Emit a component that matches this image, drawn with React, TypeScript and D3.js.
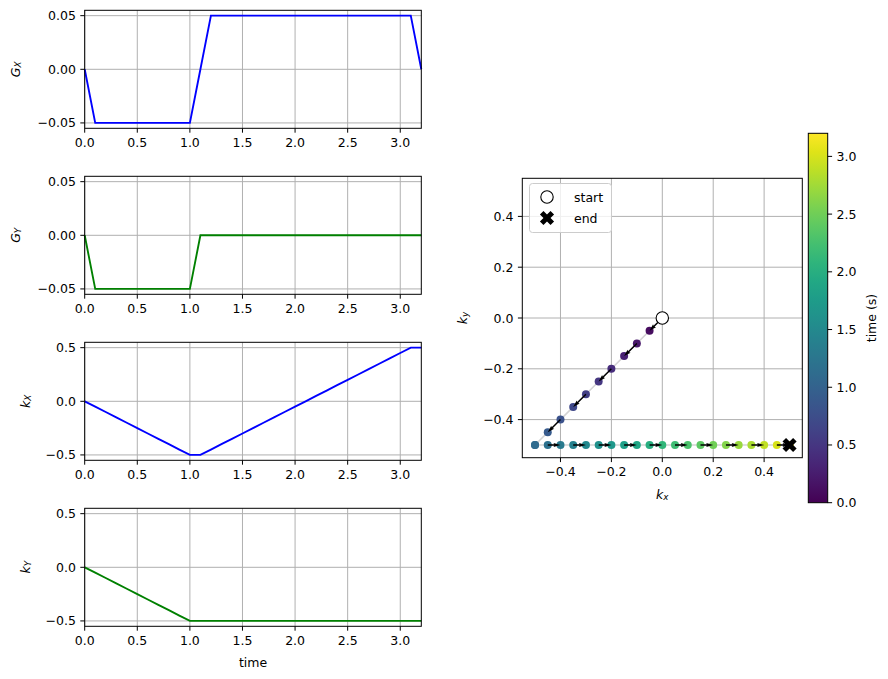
import React from 'react';
import * as d3 from 'd3';

const time = [0, 0.1, 0.2, 0.3, 0.4, 0.5, 0.6, 0.7, 0.8, 0.9, 1.0, 1.1, 1.2, 1.3, 1.4, 1.5, 1.6, 1.7, 1.8, 1.9, 2.0, 2.1, 2.2, 2.3, 2.4, 2.5, 2.6, 2.7, 2.8, 2.9, 3.0, 3.1, 3.2];
const gx = [0, -0.05, -0.05, -0.05, -0.05, -0.05, -0.05, -0.05, -0.05, -0.05, -0.05, 0, 0.05, 0.05, 0.05, 0.05, 0.05, 0.05, 0.05, 0.05, 0.05, 0.05, 0.05, 0.05, 0.05, 0.05, 0.05, 0.05, 0.05, 0.05, 0.05, 0.05, 0];
const gy = [0, -0.05, -0.05, -0.05, -0.05, -0.05, -0.05, -0.05, -0.05, -0.05, -0.05, 0, 0, 0, 0, 0, 0, 0, 0, 0, 0, 0, 0, 0, 0, 0, 0, 0, 0, 0, 0, 0, 0];
const kx = [0, -0.05, -0.1, -0.15, -0.2, -0.25, -0.3, -0.35, -0.4, -0.45, -0.5, -0.5, -0.45, -0.4, -0.35, -0.3, -0.25, -0.2, -0.15, -0.1, -0.05, 0, 0.05, 0.1, 0.15, 0.2, 0.25, 0.3, 0.35, 0.4, 0.45, 0.5, 0.5];
const ky = [0, -0.05, -0.1, -0.15, -0.2, -0.25, -0.3, -0.35, -0.4, -0.45, -0.5, -0.5, -0.5, -0.5, -0.5, -0.5, -0.5, -0.5, -0.5, -0.5, -0.5, -0.5, -0.5, -0.5, -0.5, -0.5, -0.5, -0.5, -0.5, -0.5, -0.5, -0.5, -0.5];

const timeTicks = [0, 0.5, 1.0, 1.5, 2.0, 2.5, 3.0];
const gTicks = [-0.05, 0, 0.05];
const kTicks = [-0.5, 0, 0.5];
const kspaceTicks = [-0.4, -0.2, 0, 0.2, 0.4];
const cbarTicks = [0, 0.5, 1.0, 1.5, 2.0, 2.5, 3.0];

const FONT = 'DejaVu Sans, sans-serif';
const FS = 12.5;
const TICK = 4.4;
const PAD = 4.4;
const GRID = '#b0b0b0';

const LX0 = 84.7, LX1 = 421.3;
const TOPS = [10.3, 176.3, 342.3, 508.3];
const PH = 118;

const RX0 = 522.3, RX1 = 802.3, RY0 = 178.3, RY1 = 457.7;
const CB = { x0: 808.3, x1: 827.7, y0: 133.3, y1: 502.7 };

function MathLabel({ x, y, main, sub, rotate }: { x: number; y: number; main: string; sub: string; rotate?: boolean }) {
  return (
    <text
      x={x}
      y={y}
      transform={rotate ? `rotate(-90 ${x} ${y})` : undefined}
      textAnchor="middle"
      dominantBaseline="central"
      fontFamily={FONT}
      fontSize={FS}
    >
      <tspan fontStyle="italic">{main}</tspan>
      <tspan fontStyle="italic" fontSize={FS * 0.7} dy={3}>{sub}</tspan>
    </text>
  );
}

function LeftPanel({ top, values, color, domain, ticks, fmt, labelMain, labelSub, labelX, showTime }: any) {
  const x = d3.scaleLinear().domain([0, 3.2]).range([LX0, LX1]);
  const y = d3.scaleLinear().domain(domain).range([top + PH, top]);
  const line = d3.line<number>().x((_, i) => x(time[i])).y((d) => y(d));
  const f = d3.format(fmt);
  return (
    <g>
      {timeTicks.map((t) => (
        <line key={'gx' + t} x1={x(t)} x2={x(t)} y1={top} y2={top + PH} stroke={GRID} strokeWidth={1} />
      ))}
      {ticks.map((t: number) => (
        <line key={'gy' + t} x1={LX0} x2={LX1} y1={y(t)} y2={y(t)} stroke={GRID} strokeWidth={1} />
      ))}
      <path d={line(values) || ''} fill="none" stroke={color} strokeWidth={1.875} />
      <rect x={LX0} y={top} width={LX1 - LX0} height={PH} fill="none" stroke="#000" strokeWidth={1} />
      {timeTicks.map((t) => (
        <g key={'tx' + t}>
          <line x1={x(t)} x2={x(t)} y1={top + PH} y2={top + PH + TICK} stroke="#000" strokeWidth={1} />
          <text x={x(t)} y={top + PH + TICK + PAD} dominantBaseline="hanging" textAnchor="middle" fontFamily={FONT} fontSize={FS}>
            {d3.format('.1f')(t)}
          </text>
        </g>
      ))}
      {ticks.map((t: number) => (
        <g key={'ty' + t}>
          <line x1={LX0 - TICK} x2={LX0} y1={y(t)} y2={y(t)} stroke="#000" strokeWidth={1} />
          <text x={LX0 - TICK - PAD} y={y(t)} dominantBaseline="central" textAnchor="end" fontFamily={FONT} fontSize={FS}>
            {f(t)}
          </text>
        </g>
      ))}
      <MathLabel x={labelX} y={top + PH / 2} main={labelMain} sub={labelSub} rotate />
      {showTime && (
        <text x={(LX0 + LX1) / 2} y={top + PH + 36} textAnchor="middle" dominantBaseline="central" fontFamily={FONT} fontSize={FS}>
          time
        </text>
      )}
    </g>
  );
}

function arrowPath(x1: number, y1: number, x2: number, y2: number, w: number) {
  const dx = x2 - x1, dy = y2 - y1;
  const L = Math.hypot(dx, dy);
  if (L < 0.5) return '';
  const ux = dx / L, uy = dy / L;
  const px = -uy, py = ux;
  const pts: [number, number][] = [
    [0, -w / 2], [L - 4.5 * w, -w / 2], [L - 5 * w, -1.5 * w], [L, 0],
    [L - 5 * w, 1.5 * w], [L - 4.5 * w, w / 2], [0, w / 2],
  ];
  return 'M' + pts.map(([a, b]) => `${x1 + ux * a + px * b},${y1 + uy * a + py * b}`).join('L') + 'Z';
}

function KSpace() {
  const x = d3.scaleLinear().domain([-0.55, 0.55]).range([RX0, RX1]);
  const y = d3.scaleLinear().domain([-0.55, 0.55]).range([RY1, RY0]);
  const color = (t: number) => d3.interpolateViridis(t / 3.2);
  const line = d3.line<number>().x((d) => x(d)).y((_, i) => y(ky[i]));
  const arrows: string[] = [];
  for (let i = 0; i + 1 < kx.length; i += 2) {
    arrows.push(arrowPath(x(kx[i]), y(ky[i]), x(kx[i + 1]), y(ky[i + 1]), 1.4));
  }
  const f = d3.format('.1f');
  const xSym = d3.symbol().type(d3.symbolCross).size(125)();
  const last = kx.length - 1;
  return (
    <g>
      {kspaceTicks.map((t) => (
        <line key={'gx' + t} x1={x(t)} x2={x(t)} y1={RY0} y2={RY1} stroke={GRID} strokeWidth={1} />
      ))}
      {kspaceTicks.map((t) => (
        <line key={'gy' + t} x1={RX0} x2={RX1} y1={y(t)} y2={y(t)} stroke={GRID} strokeWidth={1} />
      ))}
      <path d={line(kx) || ''} fill="none" stroke="#d3d3d3" strokeWidth={1.5} />
      {kx.map((v, i) => (
        <circle key={'p' + i} cx={x(v)} cy={y(ky[i])} r={4} fill={color(time[i])} />
      ))}
      {arrows.map((d, i) => (d ? <path key={'a' + i} d={d} fill="#000" /> : null))}
      <circle cx={x(kx[0])} cy={y(ky[0])} r={6.2} fill="#fff" stroke="#000" strokeWidth={1.1} />
      <path d={xSym || ''} transform={`translate(${x(kx[last])},${y(ky[last])}) rotate(45)`} fill="#000" />
      <rect x={RX0} y={RY0} width={RX1 - RX0} height={RY1 - RY0} fill="none" stroke="#000" strokeWidth={1} />
      {kspaceTicks.map((t) => (
        <g key={'tx' + t}>
          <line x1={x(t)} x2={x(t)} y1={RY1} y2={RY1 + TICK} stroke="#000" />
          <text x={x(t)} y={RY1 + TICK + PAD} dominantBaseline="hanging" textAnchor="middle" fontFamily={FONT} fontSize={FS}>
            {f(t)}
          </text>
        </g>
      ))}
      {kspaceTicks.map((t) => (
        <g key={'ty' + t}>
          <line x1={RX0 - TICK} x2={RX0} y1={y(t)} y2={y(t)} stroke="#000" />
          <text x={RX0 - TICK - PAD} y={y(t)} dominantBaseline="central" textAnchor="end" fontFamily={FONT} fontSize={FS}>
            {f(t)}
          </text>
        </g>
      ))}
      <MathLabel x={(RX0 + RX1) / 2} y={494} main="k" sub="x" />
      <MathLabel x={462} y={(RY0 + RY1) / 2} main="k" sub="y" rotate />
      {/* legend */}
      <rect x={529.5} y={183.5} width={82} height={49} rx={3} fill="#fff" fillOpacity={0.8} stroke="#cccccc" strokeWidth={1} />
      <circle cx={547} cy={197} r={6.2} fill="#fff" stroke="#000" strokeWidth={1.1} />
      <path d={xSym || ''} transform={`translate(547,218) rotate(45)`} fill="#000" />
      <text x={574} y={197} dominantBaseline="central" fontFamily={FONT} fontSize={FS}>start</text>
      <text x={574} y={218} dominantBaseline="central" fontFamily={FONT} fontSize={FS}>end</text>
    </g>
  );
}

function ColorBar() {
  const y = d3.scaleLinear().domain([0, 3.2]).range([CB.y1, CB.y0]);
  const stops = d3.range(0, 1.0001, 0.05);
  return (
    <g>
      <defs>
        <linearGradient id="viridisGrad" x1="0" y1="1" x2="0" y2="0">
          {stops.map((s) => (
            <stop key={s} offset={s} stopColor={d3.interpolateViridis(s)} />
          ))}
        </linearGradient>
      </defs>
      <rect x={CB.x0} y={CB.y0} width={CB.x1 - CB.x0} height={CB.y1 - CB.y0} fill="url(#viridisGrad)" stroke="#000" strokeWidth={1} />
      {cbarTicks.map((t) => (
        <g key={t}>
          <line x1={CB.x1} x2={CB.x1 + TICK} y1={y(t)} y2={y(t)} stroke="#000" />
          <text x={CB.x1 + TICK + PAD} y={y(t)} dominantBaseline="central" fontFamily={FONT} fontSize={FS}>
            {d3.format('.1f')(t)}
          </text>
        </g>
      ))}
      <text x={871} y={(CB.y0 + CB.y1) / 2} transform={`rotate(-90 871 ${(CB.y0 + CB.y1) / 2})`} textAnchor="middle" dominantBaseline="central" fontFamily={FONT} fontSize={FS}>
        time (s)
      </text>
    </g>
  );
}

export default function App() {
  return (
    <svg width={888} height={679} style={{ position: 'absolute', left: 0, top: 0, background: '#fff' }}>
      <rect x={0} y={0} width={888} height={679} fill="#fff" />
      <LeftPanel top={TOPS[0]} values={gx} color="#0000ff" domain={[-0.055, 0.055]} ticks={gTicks} fmt=".2f" labelMain="G" labelSub="X" labelX={15} />
      <LeftPanel top={TOPS[1]} values={gy} color="#008000" domain={[-0.055, 0.055]} ticks={gTicks} fmt=".2f" labelMain="G" labelSub="Y" labelX={15} />
      <LeftPanel top={TOPS[2]} values={kx} color="#0000ff" domain={[-0.55, 0.55]} ticks={kTicks} fmt=".1f" labelMain="k" labelSub="X" labelX={25} />
      <LeftPanel top={TOPS[3]} values={ky} color="#008000" domain={[-0.55, 0.55]} ticks={kTicks} fmt=".1f" labelMain="k" labelSub="Y" labelX={25} showTime />
      <KSpace />
      <ColorBar />
    </svg>
  );
}
